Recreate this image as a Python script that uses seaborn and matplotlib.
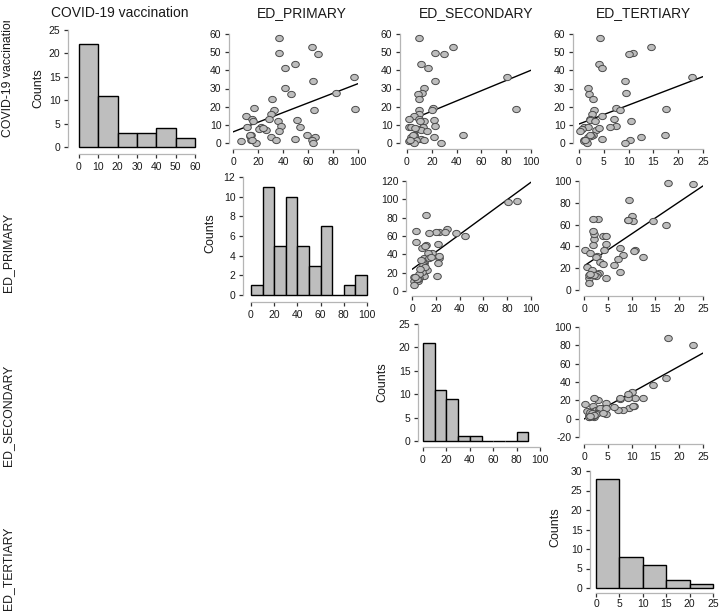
import matplotlib
matplotlib.use("Agg")
import numpy as np
import pandas as pd
import seaborn as sns
import matplotlib.pyplot as plt
from matplotlib.path import Path

covid = [57.6, 52.9, 49.4, 49.0, 43.4, 41.2, 36.2, 34.4, 30.2, 27.4, 26.9, 24.3,
         19.4, 18.7, 18.3, 17.9, 16.2, 15.0, 13.4, 13.2, 12.6, 12.3, 11.9, 9.5,
         9.0, 8.8, 8.8, 7.7, 7.3, 6.4, 4.6, 4.5, 3.7, 3.3, 3.3, 2.2, 1.8, 1.8,
         1.8, 0.9, 0.0, 0.0, 4.2, 1.5, 8.0]
ed_primary = [36.5, 63.2, 36.5, 68.0, 49.9, 41.9, 96.8, 64.0, 41.3, 82.7, 46.7, 30.9,
              16.8, 97.9, 64.8, 32.5, 30.1, 10.7, 15.5, 28.5, 51.2, 36.0, 16.0, 38.7,
              10.9, 53.9, 22.7, 20.8, 26.1, 36.8, 14.7, 59.5, 13.3, 30.7, 65.3, 49.3,
              14.0, 34.0, 63.5, 6.7, 18.7, 64.0, 13.5, 15.0, 24.0]
ed_secondary = [9.9, 37.1, 22.8, 29.5, 11.6, 16.7, 80.6, 22.8, 13.4, 12.1, 8.6, 9.7,
                21.0, 88.2, 20.4, 9.9, 9.4, 5.4, 1.3, 9.4, 22.0, 14.0, 10.2, 22.8,
                1.3, 3.2, 12.6, 8.6, 11.3, 16.1, 5.9, 44.9, 5.4, 22.0, 3.5, 11.3,
                3.5, 7.5, 14.0, 2.0, 5.9, 27.4, 4.5, 2.7, 6.5]
ed_tertiary = [4.2, 14.6, 10.8, 10.1, 4.0, 4.6, 22.8, 9.3, 1.9, 9.4, 2.0, 2.8,
               7.5, 17.6, 3.0, 8.2, 2.6, 4.6, 2.2, 7.1, 2.15, 10.55, 3.2, 7.5,
               1.0, 1.8, 6.2, 0.7, 3.4, 0.3, 2.8, 17.3, 2.5, 12.4, 1.8, 4.7,
               1.0, 1.2, 10.35, 1.1, 1.6, 9.2, 2.15, 1.3, 4.0]
var_names = ["COVID-19 vaccination", "ED_PRIMARY", "ED_SECONDARY", "ED_TERTIARY"]

df = pd.DataFrame({var_names[0]: covid, var_names[1]: ed_primary,
                   var_names[2]: ed_secondary, var_names[3]: ed_tertiary})

sns.set_theme(style="white")
plt.rcParams["font.family"] = ["Liberation Sans", "DejaVu Sans"]

W, H = 719, 611
fig = plt.figure(figsize=(W / 100, H / 100), dpi=100)
PT = 0.72  # points per pixel at 100 dpi

BAR_COLOR = "#bebebe"
PT_FILL = "#bdbdbd"
PT_EDGE = "#4a4a4a"
SPINE = "#b5b5b5"
TICK = "#333333"

circ = Path.unit_circle()
ELL = Path(circ.vertices * np.array([1.0, 0.82]), circ.codes)


def px_axes(x0, x1, ytop, ybot):
    return fig.add_axes([x0 / W, 1 - ybot / H, (x1 - x0) / W, (ybot - ytop) / H])


def r_style(ax, xticks, yticks, xoff, yoff, xpad=2.5):
    ax.set_xlim(xticks[0], xticks[-1])
    ax.set_ylim(yticks[0], yticks[-1])
    ax.set_xticks(xticks)
    ax.set_yticks(yticks)
    ax.set_xticklabels([str(int(t)) for t in xticks])
    ax.set_yticklabels([str(int(t)) for t in yticks])
    for s in ["top", "right"]:
        ax.spines[s].set_visible(False)
    ax.spines["left"].set_position(("outward", yoff * PT))
    ax.spines["bottom"].set_position(("outward", xoff * PT))
    ax.spines["left"].set_bounds(yticks[0], yticks[-1])
    ax.spines["bottom"].set_bounds(xticks[0], xticks[-1])
    for s in ["left", "bottom"]:
        ax.spines[s].set_color(SPINE)
        ax.spines[s].set_linewidth(0.9)
    ax.tick_params(direction="out", length=3, width=0.9, color=TICK,
                   labelsize=7.5, labelcolor="#1a1a1a", pad=2.5,
                   bottom=True, left=True)
    ax.tick_params(axis="x", pad=xpad)
    ax.set_xlabel("")
    ax.set_ylabel("")
    ax.patch.set_alpha(0)
    ax.grid(False)


# ---------------- diagonal histograms ----------------
hist_specs = [
    dict(rect=(79, 195, 30, 147), bins=np.arange(0, 61, 10), xticks=np.arange(0, 61, 10),
         yticks=np.arange(0, 26, 5), xoff=7, yoff=11, cx=38, cy=88, xpad=2.5),
    dict(rect=(251, 367, 177, 295), bins=np.arange(0, 101, 10), xticks=np.arange(0, 101, 20),
         yticks=np.arange(0, 13, 2), xoff=7, yoff=8, cx=210, cy=233, xpad=2.5),
    dict(rect=(423, 540, 324, 441), bins=np.arange(0, 91, 10), xticks=np.arange(0, 101, 20),
         yticks=np.arange(0, 26, 5), xoff=6, yoff=5, cx=382, cy=382, xpad=2.5),
    dict(rect=(596, 713, 471, 588), bins=np.arange(0, 26, 5), xticks=np.arange(0, 26, 5),
         yticks=np.arange(0, 31, 5), xoff=5, yoff=6, cx=555, cy=527, xpad=1.2),
]

for i, spec in enumerate(hist_specs):
    ax = px_axes(*spec["rect"])
    sns.histplot(x=df[var_names[i]], bins=spec["bins"], ax=ax, color=BAR_COLOR,
                 edgecolor="black", linewidth=1.0, alpha=1.0)
    r_style(ax, spec["xticks"], spec["yticks"], spec["xoff"], spec["yoff"], spec["xpad"])
    for p in ax.patches:
        p.set_clip_on(False)
    fig.text(spec["cx"] / W, 1 - spec["cy"] / H, "Counts", rotation=90,
             ha="center", va="center", fontsize=9, color="#1a1a1a")

# ---------------- upper-triangle scatter + regression ----------------
scatter_specs = [
    dict(r=0, c=1, rect=(233, 358, 34, 143), xticks=np.arange(0, 101, 20),
         yticks=np.arange(0, 61, 10), xoff=6, yoff=4),
    dict(r=0, c=2, rect=(407, 531, 34, 143), xticks=np.arange(0, 101, 20),
         yticks=np.arange(0, 61, 10), xoff=6, yoff=7),
    dict(r=0, c=3, rect=(579, 703, 34, 143), xticks=np.arange(0, 26, 5),
         yticks=np.arange(0, 61, 10), xoff=6, yoff=6),
    dict(r=1, c=2, rect=(412, 531, 181, 291), xticks=np.arange(0, 101, 20),
         yticks=np.arange(0, 121, 20), xoff=5, yoff=6),
    dict(r=1, c=3, rect=(584, 703, 181, 290), xticks=np.arange(0, 26, 5),
         yticks=np.arange(0, 101, 20), xoff=6, yoff=5),
    dict(r=2, c=3, rect=(584, 703, 327, 437), xticks=np.arange(0, 26, 5),
         yticks=np.arange(-20, 101, 20), xoff=7, yoff=5),
]

for spec in scatter_specs:
    ax = px_axes(*spec["rect"])
    ax.set_xlim(spec["xticks"][0], spec["xticks"][-1])
    ax.set_ylim(spec["yticks"][0], spec["yticks"][-1])
    sns.regplot(x=df[var_names[spec["c"]]], y=df[var_names[spec["r"]]], ax=ax,
                ci=None, truncate=False, marker=ELL,
                scatter_kws=dict(s=30, facecolor=PT_FILL, edgecolor=PT_EDGE,
                                 linewidths=0.7, alpha=1.0, clip_on=False, zorder=3),
                line_kws=dict(color="black", linewidth=1.0, zorder=2))
    r_style(ax, spec["xticks"], spec["yticks"], spec["xoff"], spec["yoff"])

# ---------------- variable names ----------------
col_centers = [120, 302, 476, 643]
for name, cx in zip(var_names, col_centers):
    fig.text(cx / W, 1 - 13 / H, name, ha="center", va="center", fontsize=10,
             color="#1a1a1a")

# row labels (the first one is clipped at the top of its cell, as in the reference)
row_ax = fig.add_axes([0, 0, 22 / W, (H - 21) / H])
row_ax.set_axis_off()
row_ax.set_xlim(0, 22)
row_ax.set_ylim(H, 21)
row_ax.text(8, 137, var_names[0], rotation=90, ha="center", va="bottom",
            fontsize=8.8, color="#1a1a1a", clip_on=True)
for name, cy in zip(var_names[1:], [252, 415, 568]):
    row_ax.text(8, cy, name, rotation=90, ha="center", va="center",
                fontsize=8.8, color="#1a1a1a", clip_on=False)

fig.savefig("out.png", dpi=100)
